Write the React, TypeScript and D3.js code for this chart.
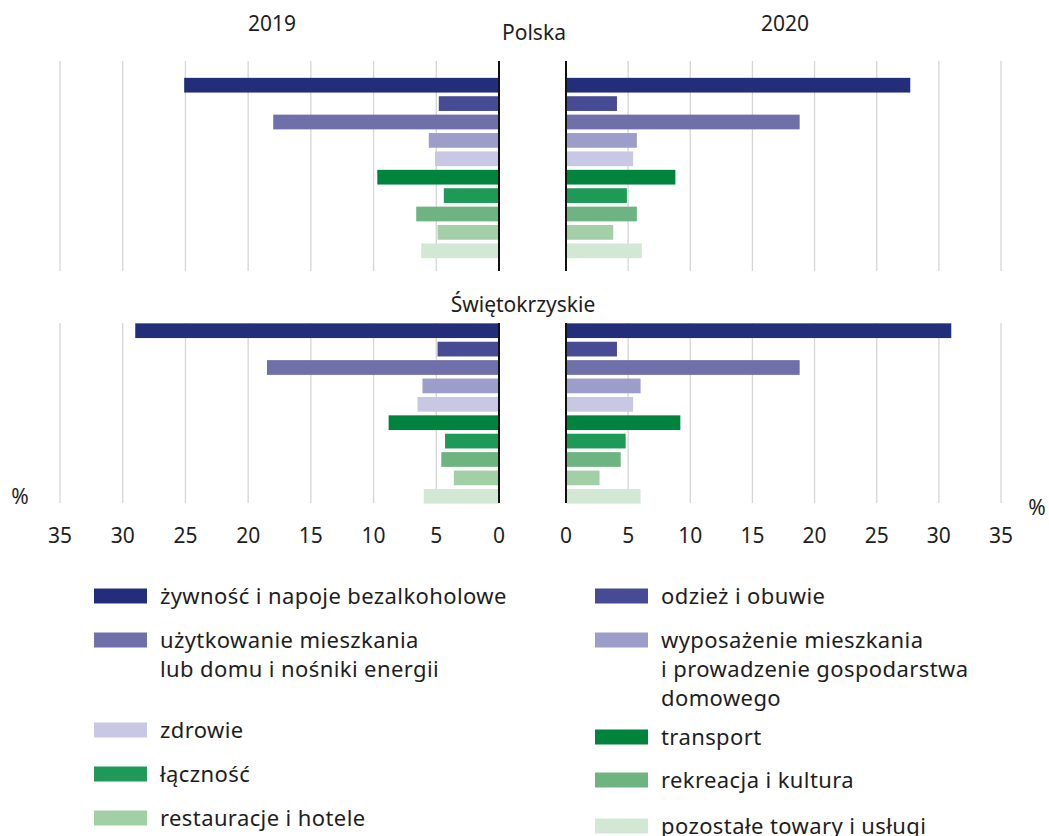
import React from "react";
import * as d3 from "d3";

// categories (bar order top to bottom)
const categories = [
  "żywność i napoje bezalkoholowe",
  "odzież i obuwie",
  "użytkowanie mieszkania lub domu i nośniki energii",
  "wyposażenie mieszkania i prowadzenie gospodarstwa domowego",
  "zdrowie",
  "transport",
  "łączność",
  "rekreacja i kultura",
  "restauracje i hotele",
  "pozostałe towary i usługi",
];

const colors = [
  "#232e7a",
  "#464b94",
  "#6f70a9",
  "#9d9dca",
  "#c8c8e4",
  "#00843d",
  "#1f9a56",
  "#6db480",
  "#a3cfa7",
  "#d3e8d4",
];

// shares of expenditure, %
const polska2019 = [25.1, 4.8, 18.0, 5.6, 5.1, 9.7, 4.4, 6.6, 4.9, 6.2];
const polska2020 = [27.7, 4.1, 18.8, 5.7, 5.4, 8.8, 4.9, 5.7, 3.8, 6.1];
const swiet2019 = [29.0, 4.9, 18.5, 6.1, 6.5, 8.8, 4.3, 4.6, 3.6, 6.0];
const swiet2020 = [31.0, 4.1, 18.8, 6.0, 5.4, 9.2, 4.8, 4.4, 2.7, 6.0];

const ticks = [0, 5, 10, 15, 20, 25, 30, 35];

// legend: two columns, label lines
const legendLeft = [
  { cat: 0, lines: ["żywność i napoje bezalkoholowe"] },
  { cat: 2, lines: ["użytkowanie mieszkania", "lub domu i nośniki energii"] },
  { cat: 4, lines: ["zdrowie"] },
  { cat: 6, lines: ["łączność"] },
  { cat: 8, lines: ["restauracje i hotele"] },
];
const legendRight = [
  { cat: 1, lines: ["odzież i obuwie"] },
  { cat: 3, lines: ["wyposażenie mieszkania", "i prowadzenie gospodarstwa", "domowego"] },
  { cat: 5, lines: ["transport"] },
  { cat: 7, lines: ["rekreacja i kultura"] },
  { cat: 9, lines: ["pozostałe towary i usługi"] },
];
const legendLeftY = [596, 640, 730, 774, 818];
const legendRightY = [596, 640, 737, 780, 826];

const W = 1049;
const H = 836;
const font = "'Noto Sans', 'Open Sans', sans-serif";
const textColor = "#1e1e1e";

const xLeft = d3.scaleLinear().domain([0, 35]).range([499, 60]);
const xRight = d3.scaleLinear().domain([0, 35]).range([566, 1001]);

const panels = [
  {
    title: "Polska",
    titleX: 534,
    titleY: 40,
    left: polska2019,
    right: polska2020,
    band: [76, 260],
    grid: [61, 271],
  },
  {
    title: "Świętokrzyskie",
    titleX: 523,
    titleY: 312,
    left: swiet2019,
    right: swiet2020,
    band: [321.5, 505.5],
    grid: [323, 503],
  },
];

const Panel = ({ p }) => {
  const y = d3
    .scaleBand()
    .domain(categories)
    .range(p.band)
    .paddingInner(0.2)
    .paddingOuter(0.1);
  const [g0, g1] = p.grid;
  return (
    <g>
      {ticks.slice(1).map((t) => (
        <g key={t}>
          <line x1={xLeft(t)} x2={xLeft(t)} y1={g0} y2={g1} stroke="#d6d6d6" strokeWidth={1.3} />
          <line x1={xRight(t)} x2={xRight(t)} y1={g0} y2={g1} stroke="#d6d6d6" strokeWidth={1.3} />
        </g>
      ))}
      {categories.map((c, i) => (
        <g key={c}>
          <rect
            x={xLeft(p.left[i])}
            y={y(c)}
            width={xLeft(0) - xLeft(p.left[i])}
            height={y.bandwidth()}
            fill={colors[i]}
          />
          <rect
            x={xRight(0)}
            y={y(c)}
            width={xRight(p.right[i]) - xRight(0)}
            height={y.bandwidth()}
            fill={colors[i]}
          />
        </g>
      ))}
      <line x1={xLeft(0)} x2={xLeft(0)} y1={g0} y2={g1} stroke="#111" strokeWidth={2} />
      <line x1={xRight(0)} x2={xRight(0)} y1={g0} y2={g1} stroke="#111" strokeWidth={2} />
      <text x={p.titleX} y={p.titleY} textAnchor="middle" fontSize={21} fill={textColor}>
        {p.title}
      </text>
    </g>
  );
};

const LegendCol = ({ items, ys, x }) => (
  <g>
    {items.map((it, k) => (
      <g key={it.cat} transform={`translate(${x},${ys[k]})`}>
        <rect x={0} y={-7.5} width={53} height={15} fill={colors[it.cat]} />
        {it.lines.map((l, j) => (
          <text key={j} x={66} y={7.5 + j * 29} fontSize={22} letterSpacing={0.4} fill={textColor}>
            {l}
          </text>
        ))}
      </g>
    ))}
  </g>
);

export default function App() {
  return (
    <svg
      width={W}
      height={H}
      style={{ position: "absolute", left: 0, top: 0, background: "#fff" }}
      fontFamily={font}
    >
      <text x={272} y={31} textAnchor="middle" fontSize={21} fill={textColor}>
        2019
      </text>
      <text x={785} y={31} textAnchor="middle" fontSize={21} fill={textColor}>
        2020
      </text>
      {panels.map((p) => (
        <Panel key={p.title} p={p} />
      ))}
      {ticks.map((t) => (
        <g key={t}>
          <text x={xLeft(t)} y={543} textAnchor="middle" fontSize={21} fill={textColor}>
            {t}
          </text>
          <text x={xRight(t)} y={543} textAnchor="middle" fontSize={21} fill={textColor}>
            {t}
          </text>
        </g>
      ))}
      <text x={20} y={504} textAnchor="middle" fontSize={21} fill={textColor}>
        %
      </text>
      <text x={1037} y={515} textAnchor="middle" fontSize={21} fill={textColor}>
        %
      </text>
      <LegendCol items={legendLeft} ys={legendLeftY} x={94} />
      <LegendCol items={legendRight} ys={legendRightY} x={595} />
    </svg>
  );
}
